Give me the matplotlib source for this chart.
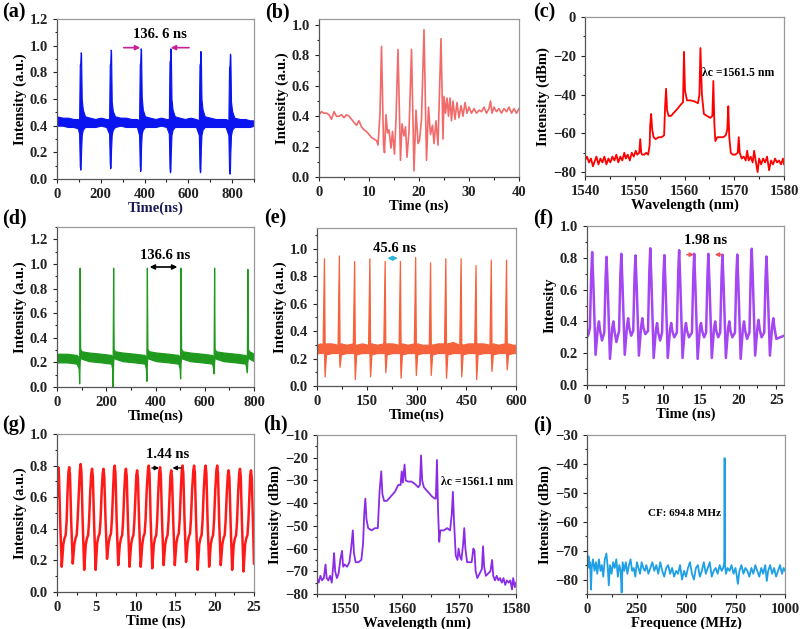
import numpy as np
import matplotlib
matplotlib.use("Agg")
import matplotlib.pyplot as plt
from matplotlib.ticker import AutoMinorLocator, MultipleLocator

plt.rcParams['font.family'] = ['Liberation Serif', 'DejaVu Serif']
plt.rcParams['font.weight'] = 'bold'
plt.rcParams['axes.labelweight'] = 'bold'

# ---- (a) pulse train, envelope of the dense trace ----
a_t = [0, 25, 50, 75, 95,
       101, 104, 106, 108, 110, 113, 118, 128, 150, 175, 200, 225,
       238, 241, 243, 245, 247, 250, 255, 265, 290, 315, 340, 365,
       375, 378, 380, 382, 384, 387, 392, 402, 425, 450, 475, 500,
       511, 514, 516, 518, 520, 523, 528, 538, 560, 585, 610, 635,
       648, 651, 653, 655, 657, 660, 665, 675, 700, 725, 750, 770,
       783, 786, 788, 790, 792, 795, 800, 810, 835, 860, 880, 900]
a_hi = [.47, .46, .46, .45, .45,
        .44, .86, .86, .95, .94, .60, .52, .47, .46, .45, .46, .45,
        .45, .86, .86, .97, .96, .58, .51, .47, .46, .46, .45, .45,
        .44, .86, .87, .98, .97, .62, .52, .47, .46, .45, .46, .45,
        .45, .88, .89, .98, .97, .60, .52, .47, .46, .45, .46, .45,
        .44, .86, .86, .96, .95, .60, .52, .47, .46, .45, .45, .45,
        .44, .84, .85, .94, .93, .58, .51, .46, .45, .45, .44, .44]
a_lo = [.40, .40, .39, .39, .38,
        .34, .10, .07, .08, .20, .33, .37, .39, .39, .39, .40, .39,
        .34, .12, .08, .09, .22, .33, .37, .39, .40, .39, .39, .39,
        .33, .10, .06, .07, .24, .34, .37, .39, .39, .39, .40, .39,
        .34, .08, .05, .06, .20, .33, .37, .39, .39, .39, .39, .39,
        .33, .08, .05, .06, .22, .33, .37, .39, .39, .39, .39, .39,
        .33, .07, .04, .05, .20, .33, .37, .39, .39, .39, .39, .40]

# ---- (b) single burst ----
b_t = [0, 0.5, 1, 1.5, 2, 2.5, 3, 3.5, 4, 4.5, 5, 5.5, 6, 6.5, 7, 7.5, 8, 8.5, 9, 9.5,
       10, 10.5, 11, 11.5, 11.8, 12.2, 12.5, 12.9, 13.1, 13.4, 13.7, 14, 14.4, 14.7, 15.1,
       15.4, 15.8, 16.3, 16.6, 17, 17.3, 17.6, 18, 18.5, 19, 19.4, 19.8, 20.1, 20.5, 21,
       21.5, 21.9, 22.3, 22.7, 23, 23.4, 23.8, 24.4, 24.8, 25, 25.3, 25.6, 25.9, 26.2, 26.5,
       26.8, 27.2, 27.6, 28, 28.4, 28.8, 29.2, 29.6, 30, 30.5, 31, 31.5, 32, 32.5, 33, 33.5,
       34, 34.3, 34.6, 35, 35.5, 36, 36.5, 37, 37.5, 38, 38.5, 39, 39.5, 40]
b_v = [.41, .43, .42, .42, .41, .38, .43, .40, .40, .41, .39, .41, .40, .38, .36, .34, .37, .33, .31, .30,
       .28, .26, .25, .24, .21, .42, .86, .22, .16, .41, .29, .31, .19, .30, .15,
       .38, .84, .11, .35, .27, .33, .13, .30, .84, .04, .44, .22, .24, .38, .97,
       .11, .46, .28, .34, .22, .37, .21, .91, .25, .53, .42, .52, .40, .52, .37,
       .50, .38, .49, .39, .47, .40, .49, .42, .46, .42, .45, .42, .44, .43, .46, .42,
       .45, .50, .42, .46, .43, .45, .42, .45, .43, .46, .42, .45, .42, .45]

# ---- (c) optical spectrum ----
c_wl = [1540, 1540.4, 1540.8, 1541.2, 1541.6, 1542.0, 1542.3, 1542.7, 1543.1, 1543.5,
        1543.9, 1544.3, 1544.7, 1545.1, 1545.5, 1545.9, 1546.3, 1546.7, 1547.1, 1547.5,
        1547.9, 1548.2, 1548.6, 1549.0, 1549.4, 1549.8, 1550.2, 1550.5, 1550.9, 1551.1,
        1551.3, 1551.5, 1551.9, 1552.3, 1552.7, 1553.0, 1553.1, 1553.3, 1553.5, 1553.8,
        1554.2, 1554.8, 1555.4, 1555.9, 1556.1, 1556.3, 1556.5, 1556.8, 1557.3, 1558.0,
        1558.7, 1559.3, 1559.7, 1559.9, 1560.1, 1560.5, 1561.2, 1562.0, 1562.7, 1563.0,
        1563.2, 1563.5, 1563.9, 1564.5, 1565.2, 1565.6, 1565.8, 1566.0, 1566.2, 1566.6,
        1567.2, 1567.8, 1568.3, 1568.6, 1568.8, 1569.0, 1569.3, 1569.7, 1570.2, 1570.7,
        1570.9, 1571.1, 1571.5, 1571.9, 1572.3, 1572.6, 1572.9, 1573.3, 1573.7, 1574.0,
        1574.3, 1574.7, 1575.0, 1575.4, 1575.8, 1576.2, 1576.6, 1577.0, 1577.4, 1577.8,
        1578.2, 1578.6, 1579.0, 1579.4, 1579.8, 1580]
c_db = [-74, -72, -75, -73, -77, -74, -72, -76, -73, -75,
        -72, -76, -73, -75, -72, -74, -71, -75, -72, -74,
        -70, -73, -71, -74, -70, -72, -69, -71, -70, -63,
        -70, -71, -71, -70, -71, -66, -56, -50, -58, -62,
        -63, -62, -62, -61, -46, -37, -48, -51, -51, -49,
        -47, -45, -44, -18, -38, -43, -43, -43.5, -44.5, -40,
        -16, -40, -50, -51, -52, -51, -33, -55, -64, -62,
        -62, -62, -61, -58, -46, -62, -70, -71, -71, -70,
        -62, -70, -73, -72, -74, -69, -74, -72, -75, -69,
        -74, -80, -73, -76, -73, -75, -72, -79, -74, -76,
        -73, -75, -74, -76, -73, -76]

# ---- (d) pulse train ----
d_t = [0, 40, 80, 88, 90, 92, 94, 100, 130, 180,
       220, 224, 226, 228, 230, 236, 266, 316,
       356, 361, 363, 365, 367, 373, 403, 453,
       493, 498, 500, 502, 504, 510, 540, 590,
       630, 634, 636, 638, 640, 646, 676, 726,
       765, 769, 771, 773, 775, 781, 800]
d_hi = [.27, .27, .26, .24, .22, .97, .31, .29, .28, .27,
        .26, .24, .22, .97, .31, .29, .28, .27,
        .26, .24, .22, .97, .31, .29, .28, .27,
        .26, .24, .22, .97, .31, .29, .28, .27,
        .26, .24, .23, .97, .31, .29, .28, .27,
        .26, .24, .23, .96, .31, .29, .27]
d_lo = [.20, .20, .19, .15, .03, .20, .24, .23, .21, .20,
        .19, .15, .00, .20, .24, .23, .21, .20,
        .19, .15, .05, .20, .24, .23, .21, .20,
        .19, .15, .07, .20, .24, .23, .21, .20,
        .19, .15, .11, .20, .24, .23, .21, .20,
        .19, .15, .12, .20, .24, .23, .21]

# ---- (e) pulse train ----
e_t = [0, 10,
       17, 21, 23, 27, 44, 62, 66, 68, 72, 89, 108, 112, 114, 118, 135,
       154, 158, 160, 164, 181, 200, 204, 206, 210, 227, 246, 250, 252, 256, 273,
       292, 296, 298, 302, 318, 337, 341, 343, 347, 364, 383, 387, 389, 393, 410,
       429, 433, 435, 439, 455, 474, 478, 480, 484, 501, 520, 524, 526, 530, 547,
       566, 570, 572, 576, 590, 600]
e_hi = [.30, .31,
        .30, .93, .30, .31, .31, .30, .95, .30, .31, .30, .31, .91, .30, .30, .31,
        .30, .93, .31, .31, .30, .31, .91, .30, .31, .31, .30, .91, .30, .31, .30,
        .31, .94, .30, .31, .30, .30, .90, .31, .30, .31, .31, .93, .30, .31, .32,
        .30, .93, .31, .30, .31, .31, .88, .30, .31, .31, .30, .92, .30, .31, .30,
        .31, .92, .30, .31, .30, .30]
e_lo = [.24, .24,
        .24, .25, .07, .23, .24, .24, .25, .14, .23, .24, .24, .25, .05, .23, .24,
        .24, .25, .07, .23, .24, .24, .25, .10, .23, .24, .24, .25, .06, .23, .24,
        .24, .25, .08, .23, .24, .24, .25, .08, .23, .24, .24, .25, .06, .23, .24,
        .24, .25, .07, .23, .24, .24, .25, .05, .23, .24, .24, .25, .11, .23, .24,
        .24, .25, .12, .23, .24, .24]

# ---- (f) period-1.98 ns waveform ----
f_t = [0.0, 0.2, 0.38, 0.56, 0.68, 0.83, 1.13, 1.43, 1.58, 1.73, 1.98,
       2.28, 2.46, 2.58, 2.73, 3.03, 3.33, 3.48, 3.63, 3.88,
       4.23, 4.41, 4.53, 4.68, 4.98, 5.28, 5.43, 5.58, 5.83,
       6.10, 6.28, 6.40, 6.55, 6.85, 7.15, 7.30, 7.45, 7.70,
       8.05, 8.23, 8.35, 8.50, 8.80, 9.10, 9.25, 9.40, 9.65,
       9.91, 10.09, 10.21, 10.36, 10.66, 10.96, 11.11, 11.26, 11.51,
       11.86, 12.04, 12.16, 12.31, 12.61, 12.91, 13.06, 13.21, 13.46,
       13.85, 14.03, 14.15, 14.30, 14.60, 14.90, 15.05, 15.20, 15.45,
       15.72, 15.90, 16.02, 16.17, 16.47, 16.77, 16.92, 17.07, 17.32,
       17.58, 17.76, 17.88, 18.03, 18.33, 18.63, 18.78, 18.93, 19.18,
       19.53, 19.71, 19.83, 19.98, 20.28, 20.58, 20.73, 20.88, 21.13,
       21.44, 21.62, 21.74, 21.89, 22.19, 22.49, 22.64, 22.79, 23.04,
       23.39, 23.57, 23.69, 23.84, 24.14, 24.44, 24.59, 24.74, 24.99, 25.5, 26.0]
f_v = [.30, .32, .36, .70, .836, .65, .19, .36, .40, .34, .28,
       .33, .68, .806, .62, .164, .36, .40, .34, .27,
       .34, .70, .825, .64, .19, .37, .42, .36, .31,
       .34, .69, .815, .63, .185, .37, .42, .36, .32,
       .34, .72, .86, .66, .17, .35, .39, .33, .28,
       .33, .69, .817, .63, .17, .35, .39, .34, .30,
       .33, .71, .848, .65, .17, .35, .39, .34, .30,
       .33, .69, .825, .63, .164, .36, .39, .34, .30,
       .33, .69, .825, .63, .17, .36, .40, .34, .30,
       .33, .69, .82, .63, .17, .36, .40, .34, .30,
       .33, .69, .82, .63, .164, .36, .40, .34, .29,
       .33, .72, .857, .66, .185, .36, .41, .35, .30,
       .33, .68, .808, .62, .185, .37, .42, .36, .29, .30, .31]

# ---- (g) period-1.44 ns waveform ----
g_t = [0.0,
       0.15, 0.25, 0.40, 0.60, 0.80, 0.95, 1.10, 1.22, 1.35, 1.45,
       1.55, 1.65, 1.80, 2.00, 2.20, 2.35, 2.50, 2.62, 2.78, 2.90,
       3.00, 3.10, 3.25, 3.45, 3.65, 3.80, 3.95, 4.07, 4.22, 4.35,
       4.45, 4.55, 4.70, 4.90, 5.10, 5.25, 5.40, 5.52, 5.67, 5.80,
       5.90, 6.00, 6.15, 6.35, 6.55, 6.70, 6.85, 6.97, 7.12, 7.22,
       7.32, 7.42, 7.57, 7.77, 7.97, 8.12, 8.27, 8.39, 8.54, 8.65,
       8.75, 8.85, 9.00, 9.20, 9.40, 9.55, 9.70, 9.82, 9.97, 10.07,
       10.17, 10.27, 10.42, 10.62, 10.82, 10.97, 11.12, 11.24, 11.39, 11.54,
       11.64, 11.74, 11.89, 12.09, 12.29, 12.44, 12.59, 12.71, 12.86, 12.98,
       13.08, 13.18, 13.33, 13.53, 13.73, 13.88, 14.03, 14.15, 14.30, 14.40,
       14.50, 14.60, 14.75, 14.95, 15.15, 15.30, 15.45, 15.57, 15.72, 15.83,
       15.93, 16.03, 16.18, 16.38, 16.58, 16.73, 16.88, 17.00, 17.15, 17.30,
       17.40, 17.50, 17.65, 17.85, 18.05, 18.20, 18.35, 18.47, 18.62, 18.76,
       18.86, 18.96, 19.11, 19.31, 19.51, 19.66, 19.81, 19.93, 20.08, 20.23,
       20.33, 20.43, 20.58, 20.78, 20.98, 21.13, 21.28, 21.40, 21.55, 21.68,
       21.78, 21.88, 22.03, 22.23, 22.43, 22.58, 22.73, 22.85, 23.00, 23.12,
       23.22, 23.32, 23.47, 23.67, 23.87, 24.02, 24.17, 24.29, 24.44, 24.52,
       24.62, 24.72, 24.87, 25.00]
g_v = [.60,
       .79, .74, .45, .16, .30, .34, .36, .45, .65, .76,
       .79, .74, .45, .18, .30, .34, .36, .46, .64, .77,
       .81, .76, .46, .14, .30, .34, .36, .45, .64, .75,
       .78, .73, .45, .14, .31, .35, .37, .45, .64, .75,
       .78, .73, .47, .21, .31, .35, .37, .46, .65, .77,
       .80, .75, .45, .17, .30, .34, .36, .45, .64, .75,
       .78, .73, .45, .16, .30, .34, .36, .45, .63, .74,
       .77, .72, .45, .16, .30, .35, .37, .46, .65, .77,
       .80, .75, .45, .15, .30, .34, .36, .45, .64, .76,
       .79, .74, .45, .17, .30, .34, .36, .45, .63, .74,
       .77, .72, .45, .17, .31, .35, .37, .46, .65, .77,
       .80, .75, .46, .19, .31, .35, .37, .46, .65, .77,
       .80, .75, .45, .14, .30, .34, .36, .45, .64, .77,
       .80, .75, .45, .16, .30, .34, .36, .45, .64, .77,
       .80, .75, .45, .17, .30, .34, .36, .45, .63, .74,
       .77, .72, .44, .14, .30, .34, .36, .45, .64, .75,
       .78, .73, .44, .13, .30, .34, .36, .45, .63, .74,
       .77, .72, .44, .18]

# ---- (h) optical spectrum ----
h_wl = [1545, 1545.3, 1545.6, 1545.9, 1546.2, 1546.5, 1546.7, 1547.0, 1547.3, 1547.6,
        1547.9, 1548.0, 1548.2, 1548.5, 1548.8, 1549.1, 1549.4, 1549.6, 1549.9, 1550.3,
        1550.7, 1551.0, 1551.3, 1551.5, 1551.8, 1552.3, 1552.8, 1553.1, 1553.3, 1553.5,
        1553.7, 1554.0, 1554.6, 1555.2, 1555.7, 1556.0, 1556.3, 1556.5, 1556.8, 1557.3,
        1558.0, 1558.7, 1559.3, 1559.7, 1559.9, 1560.1, 1560.4, 1560.6, 1561.0, 1561.6,
        1562.2, 1562.8, 1563.1, 1563.3, 1563.5, 1563.8, 1564.5, 1565.2, 1565.7, 1565.9,
        1566.1, 1566.3, 1566.5, 1566.7, 1567.3, 1567.9, 1568.4, 1568.7, 1568.9, 1569.1,
        1569.4, 1569.7, 1569.9, 1570.1, 1570.4, 1570.7, 1570.9, 1571.1, 1571.4, 1571.8,
        1572.2, 1572.5, 1572.7, 1572.9, 1573.2, 1573.6, 1574.0, 1574.2, 1574.4, 1574.7,
        1575.1, 1575.5, 1575.8, 1576.0, 1576.3, 1576.6, 1576.9, 1577.2, 1577.5, 1577.8,
        1578.1, 1578.4, 1578.7, 1579.0, 1579.3, 1579.5, 1579.8, 1580]
h_db = [-73, -75, -72, -74, -73, -67, -73, -74, -72, -75,
        -66, -62, -70, -73, -71, -65, -61, -68, -67, -68,
        -66, -60, -52, -62, -66, -66, -65, -58, -45, -38,
        -47, -51, -52, -51, -51, -35, -26, -36, -39, -39,
        -37, -35, -32, -32, -26, -31, -23, -30, -30.5, -30.5,
        -31.5, -33, -32, -19, -30, -33, -35, -37, -38, -38,
        -21, -44, -57, -52, -52, -51, -52, -45, -35, -48,
        -63, -65, -60, -63, -65, -58, -51, -60, -66, -66,
        -66, -60, -61, -70, -73, -71, -69, -59, -68, -72,
        -71, -70, -65, -72, -74, -72, -74, -73, -75, -73,
        -76, -74, -75, -74, -78, -73, -77, -75]

# ---- (i) RF spectrum ----
i_f = [0, 1, 4, 8, 12, 16, 20, 24, 30, 38,
       45, 52, 60, 68, 75, 82, 90, 98, 105, 110,
       116, 124, 132, 140, 148, 156, 163, 170, 175, 180,
       188, 196, 204, 212, 220, 228, 236, 244, 252, 260,
       268, 276, 284, 292, 300, 310, 320, 330, 340, 350,
       360, 370, 380, 390, 400, 410, 420, 430, 440, 450,
       460, 470, 480, 490, 500, 510, 520, 530, 540, 550,
       560, 570, 580, 590, 600, 610, 620, 630, 640, 650,
       660, 670, 680, 688, 693, 695, 697, 702, 710, 720,
       730, 740, 750, 757, 762, 770, 780, 790, 800, 810,
       820, 830, 840, 850, 860, 870, 880, 890, 900, 908,
       915, 925, 935, 945, 955, 965, 975, 985, 993, 1000]
i_db = [-30, -71, -75, -72, -76, -74, -83.5, -76, -73, -77,
        -74, -78, -73, -77, -75, -79, -73, -71, -76, -82,
        -75, -78, -74, -76, -73, -79, -75, -77, -84.5, -74,
        -77, -74, -78, -75, -73, -77, -76, -79, -74, -76,
        -78, -74, -76, -77, -75, -78, -76, -74, -77, -75,
        -78, -74, -77, -79, -76, -75, -78, -76, -79, -77,
        -78, -75, -80, -77, -79, -76, -74, -78, -80, -76,
        -75, -79, -77, -74, -78, -76, -74, -79, -77, -76,
        -78, -75, -77, -76, -74, -38, -75, -78, -76, -77,
        -75, -78, -76, -79, -81.5, -77, -75, -78, -76, -77,
        -79, -76, -78, -75, -77, -79, -76, -78, -75, -80.5,
        -77, -75, -78, -76, -79, -77, -75, -78, -76, -77]


W, H = 800, 629
fig = plt.figure(figsize=(W / 100, H / 100), dpi=100)


def make_ax(l, r, t, b):
    return fig.add_axes([l / W, 1 - b / H, (r - l) / W, (b - t) / H])


def style(ax, xlim, ylim, xmaj, ymaj, xlabel, ylabel):
    ax.set_xlim(*xlim)
    ax.set_ylim(*ylim)
    ax.xaxis.set_major_locator(MultipleLocator(xmaj))
    ax.yaxis.set_major_locator(MultipleLocator(ymaj))
    ax.xaxis.set_minor_locator(AutoMinorLocator(2))
    ax.yaxis.set_minor_locator(AutoMinorLocator(2))
    ax.tick_params(which='both', direction='out', colors='#222222', labelsize=10.5, width=0.8)
    ax.tick_params(which='major', length=3)
    ax.tick_params(which='minor', length=1.8)
    for lab in ax.get_xticklabels() + ax.get_yticklabels():
        lab.set_fontweight('bold')
    for s in ['left', 'bottom']:
        ax.spines[s].set_color('#555555')
        ax.spines[s].set_linewidth(0.9)
    for s in ['top', 'right']:
        ax.spines[s].set_color('#999999')
        ax.spines[s].set_linewidth(0.9)
    ax.set_xlabel(xlabel, fontsize=10.5, fontweight='bold', labelpad=0)
    ax.set_ylabel(ylabel, fontsize=10.5, fontweight='bold', labelpad=2)


def onedec(v, pos):
    return f"{v:.1f}"


# (a)
ax = make_ax(57, 254, 19, 179)
ax.fill_between(a_t, a_lo, a_hi, color='#0a14f0', lw=0.8)
style(ax, (0, 900), (0, 1.2), 200, 0.2, 'Time(ns)', 'Intensity (a.u.)')
ax.yaxis.set_major_formatter(onedec)
ax.xaxis.label.set_color('#1a1a55')
ax.text(470, 1.08, '136. 6 ns', ha='center', va='center', fontsize=10.5, fontweight='bold')
ax.annotate('', xy=(393, 0.985), xytext=(292, 0.985),
            arrowprops=dict(arrowstyle='-|>', color='#c8209a', lw=1.2, mutation_scale=7))
ax.annotate('', xy=(507, 0.985), xytext=(616, 0.985),
            arrowprops=dict(arrowstyle='-|>', color='#c8209a', lw=1.2, mutation_scale=7))

# (b)
ax = make_ax(319, 519, 19, 177)
ax.plot(b_t, b_v, color='#f26a6a', lw=1.2)
style(ax, (0, 40), (0, 1.04), 10, 0.2, 'Time (ns)', 'Intensity (a.u.)')
ax.yaxis.set_major_formatter(onedec)

# (c)
ax = make_ax(585, 784, 17, 176)
ax.plot(c_wl, c_db, color='#ff0000', lw=1.3)
style(ax, (1540, 1580), (-82, 0), 10, 20, 'Wavelength (nm)', 'Intensity (dBm)')
ax.text(1563.6, -29, 'λc =1561.5 nm', ha='left', va='center', fontsize=8.5, fontweight='bold')

# (d)
ax = make_ax(57, 254, 227, 387)
ax.fill_between(d_t, d_lo, d_hi, color='#1f9a1f', lw=0.9)
style(ax, (0, 800), (0, 1.3), 200, 0.2, 'Time(ns)', 'Intensity (a.u.)')
ax.yaxis.set_major_formatter(onedec)
ax.text(438, 1.07, '136.6 ns', ha='center', va='center', fontsize=10.5, fontweight='bold')
ax.annotate('', xy=(500, 0.975), xytext=(365, 0.975),
            arrowprops=dict(arrowstyle='<|-|>', color='black', lw=1.2, mutation_scale=7))

# (e)
ax = make_ax(317, 516, 228, 386)
ax.fill_between(e_t, e_lo, e_hi, color='#f5623c', lw=0.9)
style(ax, (0, 600), (0, 1.15), 150, 0.2, 'Time(ns)', 'Intensity (a.u.)')
ax.yaxis.set_major_formatter(onedec)
ax.text(235, 1.0, '45.6 ns', ha='center', va='center', fontsize=10.5, fontweight='bold')
ax.annotate('', xy=(252, 0.93), xytext=(204, 0.93),
            arrowprops=dict(arrowstyle='<|-|>', color='#2cb2d6', lw=1.2, mutation_scale=6))

# (f)
ax = make_ax(587, 784, 226, 385)
ax.plot(f_t, f_v, color='#a446f2', lw=1.8)
style(ax, (0, 26), (0, 1.0), 5, 0.2, 'Time (ns)', 'Intensity')
ax.yaxis.set_major_formatter(onedec)
ax.text(15.7, 0.91, '1.98 ns', ha='center', va='center', fontsize=10.5, fontweight='bold')
ax.annotate('', xy=(14.5, 0.82), xytext=(12.8, 0.82),
            arrowprops=dict(arrowstyle='-|>', color='#f05050', lw=1.0, mutation_scale=6))
ax.annotate('', xy=(16.5, 0.82), xytext=(18.2, 0.82),
            arrowprops=dict(arrowstyle='-|>', color='#f05050', lw=1.0, mutation_scale=6))

# (g)
ax = make_ax(57, 254, 434, 592)
ax.plot(g_t, g_v, color='#ff1a1a', lw=1.8)
style(ax, (0, 25), (0, 1.0), 5, 0.2, 'Time (ns)', 'Intensity (a.u.)')
ax.yaxis.set_major_formatter(onedec)
ax.text(14.1, 0.873, '1.44 ns', ha='center', va='center', fontsize=10.5, fontweight='bold')
ax.annotate('', xy=(13.3, 0.785), xytext=(11.7, 0.785),
            arrowprops=dict(arrowstyle='-|>', color='black', lw=1.0, mutation_scale=6))
ax.annotate('', xy=(14.3, 0.785), xytext=(16.1, 0.785),
            arrowprops=dict(arrowstyle='-|>', color='black', lw=1.0, mutation_scale=6))

# (h)
ax = make_ax(317, 516, 435, 594)
ax.plot(h_wl, h_db, color='#8a2be6', lw=1.3)
style(ax, (1545, 1580), (-80, -10), 10, 10, 'Wavelength (nm)', 'Intensity (dBm)')
ax.set_xticks([1550, 1560, 1570, 1580])
ax.text(1566.8, -30.7, 'λc =1561.1 nm', ha='left', va='center', fontsize=8.5, fontweight='bold')

# (i)
ax = make_ax(587, 785, 435, 594)
ax.plot(i_f, i_db, color='#1e9fe6', lw=1.3)
style(ax, (0, 1000), (-85, -30), 250, 10, 'Frequence (MHz)', 'Intensity (dBm)')
ax.set_yticks([-80, -70, -60, -50, -40, -30])
ax.text(490, -57.3, 'CF: 694.8 MHz', ha='center', va='center', fontsize=8, fontweight='bold')

# panel letters
for lab, x, y in [('(a)', 2, 12), ('(b)', 265, 12), ('(c)', 533, 12),
                  ('(d)', 2, 218), ('(e)', 264, 218), ('(f)', 533, 218),
                  ('(g)', 2, 425), ('(h)', 263, 424), ('(i)', 533, 425)]:
    fig.text(x / W, 1 - y / H, lab, ha='left', va='center', fontsize=14.5, fontweight='bold')

fig.savefig('out.png', dpi=100)
